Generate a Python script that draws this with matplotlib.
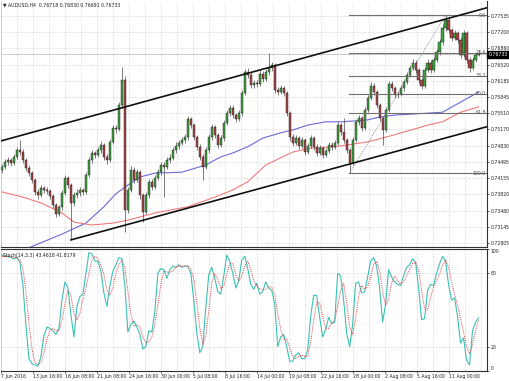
import matplotlib
matplotlib.use('Agg')
import matplotlib.pyplot as plt
import matplotlib.transforms as mtransforms
import numpy as np

# ---------------- data ----------------
title_text = "\u25bc AUDUSD,H4  0.76718 0.76830 0.76691 0.76733"
stoch_text = "Stoch(14,3,3) 43.4618 41.8179"

first_open = 0.7432
close = [0.7439,0.7449,0.7453,0.7447,0.7460,0.7474,0.7470,0.7453,0.7437,0.7426,
         0.7412,0.7387,0.7380,0.7395,0.7391,0.7389,0.7378,0.7360,0.7341,0.7355,
         0.7385,0.7416,0.7401,0.7364,0.7380,0.7385,0.7391,0.7387,0.7422,0.7453,
         0.7468,0.7464,0.7474,0.7485,0.7460,0.7453,0.7491,0.7520,0.7517,0.7568,
         0.7620,0.7349,0.7391,0.7433,0.7412,0.7428,0.7380,0.7345,0.7380,0.7408,
         0.7397,0.7416,0.7428,0.7443,0.7439,0.7453,0.7458,0.7474,0.7483,0.7489,
         0.7495,0.7501,0.7539,0.7526,0.7501,0.7481,0.7460,0.7439,0.7474,0.7501,
         0.7522,0.7506,0.7485,0.7499,0.7531,0.7551,0.7562,0.7547,0.7539,0.7551,
         0.7593,0.7637,0.7631,0.7610,0.7614,0.7612,0.7633,0.7622,0.7637,0.7645,
         0.7651,0.7599,0.7595,0.7603,0.7593,0.7551,0.7501,0.7489,0.7499,0.7483,
         0.7495,0.7470,0.7483,0.7499,0.7481,0.7468,0.7478,0.7464,0.7472,0.7485,
         0.7481,0.7489,0.7526,0.7512,0.7495,0.7474,0.7447,0.7495,0.7533,0.7541,
         0.7520,0.7558,0.7583,0.7608,0.7595,0.7568,0.7541,0.7516,0.7558,0.7612,
         0.7603,0.7589,0.7591,0.7603,0.7616,0.7631,0.7645,0.7656,0.7641,0.7620,
         0.7608,0.7641,0.7656,0.7641,0.7662,0.7678,0.7699,0.7729,0.7745,0.7724,
         0.7708,0.7718,0.7704,0.7672,0.7718,0.7662,0.7645,0.7662,0.76718,0.76733]
high = [0.7445,0.7455,0.7460,0.7458,0.7466,0.7481,0.7495,0.7476,0.7458,0.7442,
        0.7430,0.7416,0.7392,0.7401,0.7399,0.7397,0.7394,0.7382,0.7364,0.7360,
        0.7391,0.7423,0.7420,0.7406,0.7386,0.7392,0.7397,0.7396,0.7428,0.7459,
        0.7475,0.7473,0.7480,0.7492,0.7489,0.7465,0.7497,0.7526,0.7527,0.7575,
        0.7647,0.7628,0.7398,0.7440,0.7438,0.7434,0.7432,0.7384,0.7386,0.7414,
        0.7413,0.7422,0.7434,0.7450,0.7449,0.7459,0.7465,0.7480,0.7490,0.7496,
        0.7502,0.7508,0.7546,0.7544,0.7530,0.7506,0.7486,0.7465,0.7480,0.7507,
        0.7529,0.7527,0.7510,0.7505,0.7537,0.7558,0.7569,0.7567,0.7552,0.7557,
        0.7600,0.7644,0.7646,0.7636,0.7621,0.7620,0.7640,0.7638,0.7643,0.7676,
        0.7658,0.7656,0.7606,0.7610,0.7608,0.7597,0.7555,0.7507,0.7505,0.7504,
        0.7501,0.7500,0.7489,0.7505,0.7504,0.7486,0.7484,0.7483,0.7478,0.7491,
        0.7490,0.7495,0.7532,0.7531,0.7540,0.7500,0.7479,0.7501,0.7539,0.7548,
        0.7546,0.7564,0.7589,0.7615,0.7613,0.7600,0.7573,0.7546,0.7564,0.7619,
        0.7618,0.7608,0.7597,0.7609,0.7622,0.7637,0.7651,0.7663,0.7661,0.7646,
        0.7625,0.7647,0.7663,0.7661,0.7668,0.7685,0.7706,0.7736,0.7755,0.7750,
        0.7729,0.7724,0.7722,0.7709,0.7724,0.7722,0.7667,0.7668,0.7678,0.76830]
low = [0.7427,0.7434,0.7444,0.7441,0.7443,0.7455,0.7464,0.7447,0.7431,0.7420,
       0.7405,0.7381,0.7372,0.7376,0.7384,0.7382,0.7372,0.7354,0.7334,0.7336,
       0.7350,0.7380,0.7395,0.7287,0.7358,0.7374,0.7379,0.7381,0.7383,0.7418,
       0.7448,0.7457,0.7459,0.7469,0.7454,0.7446,0.7449,0.7486,0.7510,0.7513,
       0.7562,0.7303,0.7342,0.7386,0.7405,0.7407,0.7373,0.7324,0.7340,0.7375,
       0.7391,0.7392,0.7411,0.7423,0.7376,0.7434,0.7447,0.7453,0.7468,0.7477,
       0.7484,0.7489,0.7496,0.7520,0.7495,0.7475,0.7454,0.7412,0.7434,0.7469,
       0.7496,0.7500,0.7479,0.7480,0.7494,0.7526,0.7546,0.7541,0.7532,0.7534,
       0.7546,0.7588,0.7624,0.7603,0.7604,0.7605,0.7607,0.7615,0.7617,0.7631,
       0.7639,0.7593,0.7588,0.7590,0.7586,0.7545,0.7494,0.7482,0.7484,0.7477,
       0.7478,0.7464,0.7465,0.7478,0.7475,0.7462,0.7463,0.7458,0.7459,0.7467,
       0.7475,0.7476,0.7484,0.7506,0.7489,0.7468,0.7426,0.7442,0.7490,0.7527,
       0.7514,0.7515,0.7553,0.7578,0.7589,0.7562,0.7535,0.7485,0.7511,0.7553,
       0.7597,0.7583,0.7583,0.7586,0.7598,0.7611,0.7626,0.7640,0.7635,0.7614,
       0.7601,0.7603,0.7636,0.7635,0.7636,0.7657,0.7673,0.7694,0.7723,0.7718,
       0.7701,0.7703,0.7698,0.7666,0.7667,0.7656,0.7637,0.7640,0.7657,0.76691]

# moving averages (bar index, price)
ma_blue_idx = [8,13,20,28,34,38,41,46,51,60,68,73,77,82,87,93,97,102,108,113,118,122,126,131,142,147,153,159]
ma_blue_val = [0.7268,0.7281,0.7299,0.7322,0.7356,0.7383,0.7397,0.7418,0.7426,0.7428,0.7443,0.7460,0.7468,
               0.7481,0.7499,0.7510,0.7516,0.7526,0.7533,0.7533,0.7535,0.7537,0.7543,0.7547,0.7551,0.7553,0.7574,0.7595]
ma_red_idx = [0,7,13,20,24,30,37,42,51,62,71,77,82,88,97,103,111,122,131,142,147,153,159]
ma_red_val = [0.7387,0.7376,0.7364,0.7343,0.7324,0.7318,0.7322,0.7328,0.7343,0.7356,0.7376,0.7391,0.7408,
              0.7443,0.7470,0.7478,0.7481,0.7491,0.7506,0.7526,0.7533,0.7553,0.7564]

# trend channel anchors (bar index, price)
upper_anchor = [(6, 0.7504), (148, 0.7747)]
lower_anchor = [(23, 0.7287), (162.5, 0.7524)]

# fibonacci retracement
fib_low_pt = (116, 0.7426)
fib_high_pt = (148, 0.7755)
fib_levels = [0.7755, 0.7677, 0.7629, 0.7591, 0.7552, 0.7426]
fib_labels = ["0.0", "23.6", "38.2", "50.0", "61.8", "100.0"]

price_ticks = [0.77535, 0.77200, 0.76860, 0.76520, 0.76185, 0.75845, 0.75510, 0.75170,
               0.74830, 0.74495, 0.74155, 0.73820, 0.73480, 0.73145, 0.72805]

stoch_main = [95,94,94,93,92,93,89,70,37,10,
              6,5,4,12,29,36,35,33,30,35,
              58,73,68,46,28,53,61,63,80,97,
              96,90,90,82,64,53,70,82,87,93,
              92,70,32,38,41,36,30,18,20,33,
              32,49,80,84,83,76,83,86,85,87,
              85,86,86,80,58,31,15,20,52,79,
              85,76,65,63,78,95,90,80,68,74,
              91,94,84,71,67,72,63,65,73,68,
              66,55,20,28,30,20,8,8,13,15,
              10,10,17,45,62,62,44,28,34,44,
              39,40,80,78,58,31,20,38,72,73,
              64,65,77,90,93,86,68,40,55,83,
              77,73,71,70,78,85,87,92,89,68,
              42,43,66,71,70,80,88,94,90,71,
              58,60,45,23,27,9,5,33,40,43.46]
stoch_signal = [94,94,94,94,93,93,91,84,65,39,
                18,7,5,7,15,26,33,35,33,33,
                41,55,66,62,47,42,47,59,68,80,
                91,94,92,87,79,66,62,68,80,87,
                91,85,65,47,37,38,36,28,23,24,
                28,38,54,71,82,81,81,82,85,86,
                86,86,86,84,75,56,35,22,29,50,
                72,80,75,68,69,79,88,88,79,74,
                78,86,90,83,74,70,67,67,67,69,
                69,63,47,34,26,26,19,12,10,12,
                13,12,12,24,41,56,56,45,35,35,
                39,41,53,66,72,56,36,30,43,61,
                70,67,69,77,87,90,82,65,54,59,
                72,78,74,71,73,78,83,88,89,83,
                66,51,50,60,69,74,79,87,91,85,
                73,63,54,43,32,20,14,22,33,41.82]

date_labels = ["7 Jun 2016", "13 Jun 16:00", "16 Jun 08:00", "21 Jun 08:00", "24 Jun 16:00",
               "30 Jun 00:00", "5 Jul 08:00", "8 Jul 16:00", "14 Jul 00:00", "19 Jul 08:00",
               "22 Jul 16:00", "28 Jul 00:00", "2 Aug 08:00", "5 Aug 16:00", "11 Aug 00:00"]

# ---------------- drawing ----------------
W, H = 510, 381
fig = plt.figure(figsize=(W / 100, H / 100), dpi=100)
fig.patch.set_facecolor('white')

FS = 3.3
GRID = dict(color='#b8b8b8', linestyle=(0, (1, 2)), linewidth=0.5)

x_left, x_right = -0.5, 161.83
px_per_bar = 3.0

def px_to_x(px):
    return px / px_per_bar - 0.5

ax1 = fig.add_axes([0.5 / W, 1 - 246.5 / H, 486.5 / W, 245.5 / H])
ax2 = fig.add_axes([0.5 / W, 1 - 371 / H, 486.5 / W, 122 / H])

for ax in (ax1, ax2):
    ax.set_xlim(x_left, x_right)
    ax.set_facecolor('white')
    for s in ax.spines.values():
        s.set_color('#303030')
        s.set_linewidth(0.8)
    ax.spines['left'].set_color('#c0c0c0')
    ax.spines['left'].set_linewidth(0.5)

ax1.spines['top'].set_visible(False)

ylo, yhi = 0.72732, 0.77847
ax1.set_ylim(ylo, yhi)

# vertical grid every 16 px, labels every 32 px
vgrid = [px_to_x(1 + 16 * k) for k in range(31)]
label_pos = [px_to_x(1 + 32 * k) for k in range(len(date_labels))]
for ax in (ax1, ax2):
    for gx in vgrid:
        ax.axvline(gx, zorder=0, **GRID)
for p in price_ticks:
    ax1.axhline(p, zorder=0, **GRID)
for lv in (20, 80):
    ax2.axhline(lv, zorder=0, **GRID)

# candles
o = np.array([first_open] + close[:-1])
c = np.array(close)
h = np.array(high)
l = np.array(low)
xi = np.arange(len(c))
ax1.vlines(xi, l, h, color='#5a5a5a', linewidth=0.55, zorder=3)
bottom = np.minimum(o, c)
height = np.maximum(np.abs(c - o), 0.00008)
up = c >= o
ax1.bar(xi[up], height[up], bottom=bottom[up], width=0.72, color='#3f9f3f',
        edgecolor='#1a1a1a', linewidth=0.3, zorder=4)
ax1.bar(xi[~up], height[~up], bottom=bottom[~up], width=0.72, color='#a84444',
        edgecolor='#1a1a1a', linewidth=0.3, zorder=4)

# moving averages
ax1.plot(ma_blue_idx, ma_blue_val, color='#6a6ad8', linewidth=0.8, zorder=2)
ax1.plot(ma_red_idx, ma_red_val, color='#f07a7a', linewidth=0.8, zorder=2)

# bid line
ax1.axhline(close[-1], color='#c4c4c4', linewidth=0.6, zorder=1)

# channel lines
ax1.axline(upper_anchor[0], upper_anchor[1], color='#101010', linewidth=1.2, zorder=6)
ax1.plot([lower_anchor[0][0], lower_anchor[1][0]], [lower_anchor[0][1], lower_anchor[1][1]],
         color='#101010', linewidth=1.2, zorder=6)

# fibonacci
fx0 = fib_low_pt[0] - 0.3
for lv, lab in zip(fib_levels, fib_labels):
    ax1.plot([fx0, x_right], [lv, lv], color='#6e6e6e', linewidth=0.8, zorder=5)
    ax1.text(x_right - 0.4, lv, lab, fontsize=FS, color='#505050', ha='right', va='center',
             zorder=7)
ax1.plot([fib_low_pt[0], fib_high_pt[0]], [fib_low_pt[1], fib_high_pt[1]],
         color='#777777', linewidth=0.6, linestyle=(0, (1, 1.5)), zorder=5)

# price axis
ax1.yaxis.tick_right()
ax1.set_yticks(price_ticks)
ax1.set_yticklabels([f"{p:.5f}" for p in price_ticks], fontsize=FS)
ax1.tick_params(axis='y', length=1.5, width=0.5, pad=1.0, colors='#202020')
ax1.set_xticks([])

# current price box
trans = mtransforms.blended_transform_factory(ax1.transAxes, ax1.transData)
ax1.text(1.003, close[-1], f"{close[-1]:.5f}", transform=trans, fontsize=FS, color='white',
         ha='left', va='center', zorder=10, clip_on=False,
         bbox=dict(boxstyle='square,pad=0.3', facecolor='black', edgecolor='black'))

# stochastic
ax2.set_ylim(0, 100)
ax2.plot(xi, stoch_main, color='#3cc0b4', linewidth=0.8, zorder=3)
ax2.plot(xi, stoch_signal, color='#e03c3c', linewidth=0.7, linestyle=(0, (1, 1.2)), zorder=4)
ax2.yaxis.tick_right()
ax2.set_yticks([0, 20, 80, 100])
ax2.set_yticklabels(['0', '20', '80', '100'], fontsize=FS)
ax2.tick_params(axis='y', length=1.5, width=0.5, pad=1.0, colors='#202020')
tl = ax2.get_yticklabels()
tl[0].set_va('bottom')
tl[-1].set_va('top')
ax2.set_xticks(label_pos)
ax2.set_xticklabels(date_labels, fontsize=FS)
for t in ax2.get_xticklabels():
    t.set_ha('left')
ax2.tick_params(axis='x', length=1.5, width=0.5, pad=1.0, colors='#202020')

# header texts
fig.text(3 / W, 1 - 5 / H, title_text, fontsize=FS, color='#202020', ha='left', va='center')
fig.text(3 / W, 1 - 255 / H, stoch_text, fontsize=FS, color='#202020', ha='left', va='center')

fig.savefig('out.png', dpi=100, facecolor='white')
